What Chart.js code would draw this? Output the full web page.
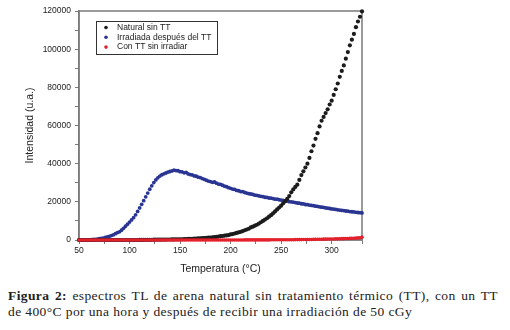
<!DOCTYPE html>
<html>
<head>
<meta charset="utf-8">
<script src="https://cdn.jsdelivr.net/npm/chart.js@4.4.0/dist/chart.umd.min.js"></script>
<style>
  html, body { margin: 0; padding: 0; background: #fff; width: 510px; height: 330px; overflow: hidden; }
  #wrap { position: relative; width: 510px; height: 330px; }
  #chart { position: absolute; left: 0; top: 0; }
  #caption {
    position: absolute; left: 8px; top: 288px; width: 490px;
    font-family: "Liberation Serif", "DejaVu Serif", serif; font-size: 13.5px;
    letter-spacing: 0.4px; line-height: 16px; color: #222; white-space: nowrap;
  }
  #caption .l1 { text-align: justify; text-align-last: justify; }
  #caption b { font-weight: bold; }
</style>
</head>
<body>
<div id="wrap">
  <canvas id="chart" width="510" height="280"></canvas>
  <div id="caption">
    <div class="l1"><b>Figura 2:</b> espectros TL de arena natural sin tratamiento térmico (TT), con un TT</div>
    <div>de 400°C por una hora y después de recibir una irradiación de 50 cGy</div>
  </div>
</div>
<script>
// --- Datos ---
const seriesLabels = ["Natural sin TT", "Irradiada después del TT", "Con TT sin irradiar"];
const seriesColors = ["#1c1c1c", "#2a3592", "#e3202c"];

const temps = [
  50, 52, 54, 56, 58, 60, 62, 64, 66, 68,
  70, 72, 74, 76, 78, 80, 82, 84, 86, 88,
  90, 92, 94, 96, 98, 100, 102, 104, 106, 108,
  110, 112, 114, 116, 118, 120, 122, 124, 126, 128,
  130, 132, 134, 136, 138, 140, 142, 144, 146, 148,
  150, 152, 154, 156, 158, 160, 162, 164, 166, 168,
  170, 172, 174, 176, 178, 180, 182, 184, 186, 188,
  190, 192, 194, 196, 198, 200, 202, 204, 206, 208,
  210, 212, 214, 216, 218, 220, 222, 224, 226, 228,
  230, 232, 234, 236, 238, 240, 242, 244, 246, 248,
  250, 252, 254, 256, 258, 260, 262, 264, 266, 268,
  270, 272, 274, 276, 278, 280, 282, 284, 286, 288,
  290, 292, 294, 296, 298, 300, 302, 304, 306, 308,
  310, 312, 314, 316, 318, 320, 322, 324, 326, 328,
  330
];

const natural = [
  0, 0, 0, 0, 0, 0, 0, 0, 0, 0,
  0, 0, 0, 0, 0, 0, 0, 0, 0, 0,
  0, 0, 0, 0, 0, 0, 0, 0, 0, 0,
  50, 50, 50, 100, 100, 100, 100, 150, 150, 150,
  150, 200, 200, 200, 250, 250, 300, 300, 350, 350,
  400, 400, 450, 500, 550, 600, 650, 700, 750, 800,
  900, 950, 1000, 1100, 1200, 1300, 1400, 1500, 1600, 1800,
  2000, 2100, 2300, 2400, 2600, 2900, 3100, 3400, 3700, 4000,
  4300, 4700, 5100, 5500, 5900, 6600, 7000, 7500, 8000, 8600,
  9300, 10000, 10700, 11400, 12200, 13000, 14000, 15000, 16000, 17000,
  18000, 19200, 20400, 21500, 23000, 25000, 26500, 27800, 29000, 31500,
  34000, 36000, 38000, 40000, 43000, 46500, 49500, 53000, 56000, 59500,
  62500, 64500, 66500, 68500, 71000, 73000, 76000, 79000, 82000, 85500,
  88600, 91500, 95000, 98500, 102000, 105000, 108000, 111500, 114500, 117000,
  119800
];

const irradiada = [
  0, 0, 50, 50, 100, 100, 200, 250, 350, 500,
  650, 800, 1000, 1300, 1600, 1900, 2300, 2700, 3300, 3900,
  4300, 5100, 6100, 7200, 8300, 9400, 10500, 11700, 13200, 15000,
  16800, 18700, 20600, 22600, 24600, 26600, 28400, 30100, 31500, 32600,
  33500, 34200, 34700, 35100, 35600, 35900, 36200, 36600, 36400, 36300,
  35800, 35700, 35200, 35400, 34600, 34300, 34100, 33600, 33400, 32900,
  32700, 32200, 31800, 31300, 30900, 30600, 30200, 30400, 29800, 29300,
  29100, 28700, 28200, 27900, 27400, 27100, 26700, 26500, 26000, 25800,
  25400, 25300, 24900, 24600, 24300, 24100, 23900, 23500, 23400, 23100,
  22900, 22700, 22400, 22300, 22000, 21900, 21700, 21400, 21400, 21100,
  20900, 20800, 20500, 20400, 20100, 20000, 19800, 19600, 19400, 19300,
  19000, 18900, 18600, 18500, 18300, 18100, 18000, 17700, 17600, 17400,
  17200, 17100, 16800, 16700, 16500, 16300, 16200, 16000, 15800, 15700,
  15500, 15400, 15200, 15100, 14900, 14800, 14700, 14500, 14400, 14300,
  14200
];

const conTT = [
  0, 0, 0, 0, 0, 0, 0, 0, 0, 0,
  0, 0, 0, 0, 0, 0, 0, 0, 0, 0,
  0, 0, 0, 0, 0, 0, 0, 0, 0, 0,
  0, 0, 0, 0, 0, 0, 0, 0, 0, 0,
  0, 0, 0, 0, 0, 0, 0, 0, 0, 0,
  0, 0, 0, 0, 0, 0, 0, 0, 0, 0,
  0, 0, 0, 0, 0, 0, 0, 0, 0, 0,
  0, 0, 0, 0, 0, 0, 0, 0, 0, 0,
  0, 0, 50, 50, 50, 50, 50, 50, 50, 50,
  50, 50, 50, 50, 50, 100, 100, 100, 100, 100,
  100, 100, 100, 100, 150, 150, 150, 200, 200, 200,
  200, 250, 250, 300, 300, 300, 350, 350, 400, 400,
  400, 450, 450, 500, 500, 550, 550, 600, 600, 650,
  700, 700, 750, 800, 850, 900, 950, 1000, 1100, 1200,
  1500
];

const xMin = 50, xMax = 330, xStep = 25, xLabelEvery = 50;
const yMin = 0, yMax = 120000, yStep = 10000, yLabelEvery = 20000;

const axisGray = "#7a7a7a";
const tickFont = { family: "'Liberation Sans', Arial, sans-serif", size: 8.5 };
const titleFont = { family: "'Liberation Sans', Arial, sans-serif", size: 10.5 };

function points(values) {
  return temps.map((t, i) => ({ x: t, y: values[i] }));
}

// marco (arriba y derecha)
const framePlugin = {
  id: "frame",
  beforeDatasetsDraw(chart) {
    const a = chart.chartArea;
    const ctx = chart.ctx;
    ctx.save();
    ctx.strokeStyle = axisGray;
    ctx.lineWidth = 1.5;
    ctx.strokeRect(a.left, a.top, a.right - a.left, a.bottom - a.top);
    ctx.restore();
  }
};

// leyenda con borde dentro del area
const boxLegend = {
  id: "boxLegend",
  afterDraw(chart) {
    const ctx = chart.ctx;
    const x = 96, y = 21, w = 121, h = 33;
    ctx.save();
    ctx.fillStyle = "#fff";
    ctx.fillRect(x, y, w, h);
    ctx.strokeStyle = "#333";
    ctx.lineWidth = 1;
    ctx.strokeRect(x + 0.5, y + 0.5, w, h);
    ctx.font = "8.5px 'Liberation Sans', Arial, sans-serif";
    ctx.textBaseline = "middle";
    chart.data.datasets.forEach((ds, i) => {
      const cy = y + 6.5 + i * 9.8;
      ctx.fillStyle = ds.backgroundColor;
      ctx.beginPath();
      ctx.arc(x + 10, cy, 1.8, 0, Math.PI * 2);
      ctx.fill();
      ctx.fillStyle = "#222";
      ctx.fillText(ds.label, x + 21, cy);
    });
    ctx.restore();
  }
};

const ctx = document.getElementById("chart").getContext("2d");
new Chart(ctx, {
  type: "scatter",
  data: {
    datasets: [
      { label: seriesLabels[0], data: points(natural), backgroundColor: seriesColors[0], borderColor: seriesColors[0],
        pointRadius: 2.1, borderWidth: 0, order: 1, clip: 5 },
      { label: seriesLabels[1], data: points(irradiada), backgroundColor: seriesColors[1], borderColor: seriesColors[1],
        pointRadius: 1.9, borderWidth: 0, order: 2, clip: 5 },
      { label: seriesLabels[2], data: points(conTT), backgroundColor: seriesColors[2], borderColor: seriesColors[2],
        pointRadius: 1.8, borderWidth: 0, order: 0, clip: 5 }
    ]
  },
  options: {
    responsive: false,
    animation: false,
    events: [],
    layout: { padding: { left: 0, top: 11, right: 148, bottom: 0 } },
    plugins: { legend: { display: false }, tooltip: { enabled: false } },
    scales: {
      x: {
        type: "linear",
        min: xMin, max: xMax,
        afterFit(scale) { scale.height = 40; },
        ticks: {
          stepSize: xStep,
          color: "#222",
          font: tickFont,
          padding: 2,
          maxRotation: 0,
          callback: (v) => (v % xLabelEvery === 0 && v < xMax ? String(v) : "")
        },
        grid: { drawOnChartArea: false, tickLength: 4, tickColor: axisGray, tickWidth: 1 },
        border: { color: axisGray, width: 1.5 },
        title: { display: true, text: "Temperatura (°C)", color: "#222", font: titleFont, padding: { top: 0, bottom: 5 } }
      },
      y: {
        min: yMin, max: yMax,
        afterFit(scale) { scale.width = 79; },
        ticks: {
          stepSize: yStep,
          color: "#222",
          font: tickFont,
          padding: 4,
          callback: (v) => (v % yLabelEvery === 0 ? String(v) : "")
        },
        grid: { drawOnChartArea: false, tickLength: 4, tickColor: axisGray, tickWidth: 1 },
        border: { color: axisGray, width: 1.5 },
        title: { display: true, text: "Intensidad (u.a.)", color: "#222", font: titleFont, padding: { top: 24, bottom: 0 } }
      }
    }
  },
  plugins: [framePlugin, boxLegend]
});
</script>
</body>
</html>
